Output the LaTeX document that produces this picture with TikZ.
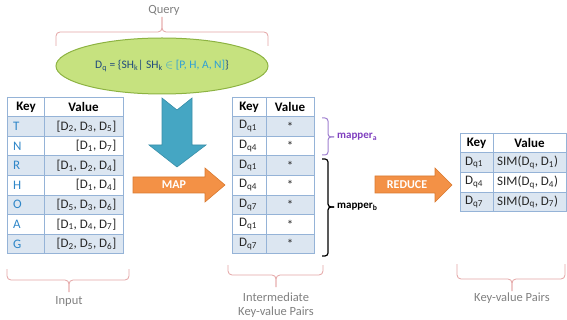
\documentclass[tikz,border=0pt]{standalone}
\usepackage{fontspec}
\setmainfont{Carlito}
\usetikzlibrary{shapes.geometric}
\newcommand\sbs[1]{\textsubscript{#1}}
\definecolor{tblline}{HTML}{95B3D7}
\definecolor{tblfill}{HTML}{DCE6F1}
\definecolor{keyblue}{HTML}{2E86C8}
\definecolor{txtdark}{HTML}{262626}
\definecolor{bracepink}{HTML}{E3A3A3}
\definecolor{labelgray}{HTML}{808080}
\definecolor{ellfill}{HTML}{C6E27F}
\definecolor{elldraw}{HTML}{8DB342}
\definecolor{arrteal}{HTML}{45A6C3}
\definecolor{arrtealdk}{HTML}{3A8FA9}
\definecolor{arrorange}{HTML}{F39146}
\definecolor{arrorangedk}{HTML}{D97A30}
\definecolor{mpurple}{HTML}{7F3FBF}
\definecolor{bpurple}{HTML}{9F7FCF}
\definecolor{navy}{HTML}{1F497D}
\definecolor{lightblue}{HTML}{2EA0D6}
\tikzset{
  cell/.style={inner sep=0pt, font=\fontsize{13}{15}\selectfont, text=txtdark},
  keycell/.style={cell, text=keyblue, anchor=west},
  hdr/.style={inner sep=0pt, font=\fontsize{13}{15}\selectfont\bfseries, text=black},
  lbl/.style={inner sep=0pt, font=\fontsize{12.5}{15}\selectfont, text=labelgray},
  brc/.style={draw=bracepink, line width=0.8pt, rounded corners=4pt},
  grid/.style={draw=tblline, line width=0.8pt},
  shade/.style={fill=tblfill},
  tealarrow/.style={fill=arrteal, draw=arrtealdk, line width=0.6pt},
  orangearrow/.style={fill=arrorange, draw=arrorangedk, line width=0.6pt},
  arrtext/.style={inner sep=0pt, text=white, font=\fontsize{12}{14}\selectfont\bfseries},
  mlabel/.style={inner sep=0pt, anchor=west, font=\fontsize{11}{13}\selectfont\bfseries}
}
\begin{document}
\begin{tikzpicture}[x=1pt,y=-1pt]
\useasboundingbox (0,0) rectangle (567,320);

% ---------- Query ----------
\node[lbl] (qlabel) at (164,10) {Query};
\draw[brc] (56,46) -- (56,32) -- (162,32) -- (162,17);
\draw[brc] (268,46) -- (268,32) -- (162,32) -- (162,17);
\node[ellipse, fill=ellfill, draw=elldraw, line width=1pt, minimum width=212pt, minimum height=56pt,
      font=\fontsize{11.5}{13}\selectfont, text=navy] (query) at (162,66)
  {D\sbs{q} = \{SH\sbs{k}|~SH\sbs{k} {\color{lightblue}$\in$ [P, H, A, N]}\}};

% ---------- teal arrow ----------
\draw[tealarrow] (162,98) -- (177,110) -- (192,98) -- (192,145) -- (206,145) -- (177,167)
  -- (149,145) -- (162,145) -- cycle;

% ---------- MAP arrow ----------
\draw[orangearrow] (133,177) -- (205,177) -- (205,168) -- (225,185) -- (205,202) -- (205,193)
  -- (133,193) -- cycle;
\node[arrtext] (map) at (174,185) {MAP};

% ---------- REDUCE arrow ----------
\draw[orangearrow] (375,176) -- (435,176) -- (435,168) -- (452,185) -- (435,202) -- (435,193)
  -- (375,193) -- cycle;
\node[arrtext] (reduce) at (407,185) {REDUCE};

% ---------- Input table ----------
\foreach \i in {1,3,5,7} \fill[shade] (7,{97+19.6*\i}) rectangle (123,{97+19.6*(\i+1)});
\foreach \i in {0,...,8} \draw[grid] (7,{97+19.6*\i}) -- (123,{97+19.6*\i});
\foreach \x in {7,44,123} \draw[grid] (\x,97) -- (\x,253.8);
\node[hdr] (inK) at (26,107) {Key};
\node[hdr] (inV) at (83.5,107) {Value};
\foreach \k/\v [count=\i] in {T/{[D\sbs{2}, D\sbs{3}, D\sbs{5}]}, N/{[D\sbs{1}, D\sbs{7}]},
   R/{[D\sbs{1}, D\sbs{2}, D\sbs{4}]}, H/{[D\sbs{1}, D\sbs{4}]}, O/{[D\sbs{5}, D\sbs{3}, D\sbs{6}]},
   A/{[D\sbs{1}, D\sbs{4}, D\sbs{7}]}, G/{[D\sbs{2}, D\sbs{5}, D\sbs{6}]}} {
  \node[keycell] (ink\i) at (13,{97+19.6*\i+9.8}) {\k};
  \node[cell, anchor=east] (inv\i) at (116.5,{97+19.6*\i+9.8}) {\v};
}
\draw[brc] (7,269) -- (7,280) -- (69,280) -- (69,292);
\draw[brc] (129,269) -- (129,280) -- (69,280) -- (69,292);
\node[lbl] (inlabel) at (69,301) {Input};

% ---------- Intermediate table ----------
\foreach \i in {1,3,5,7} \fill[shade] (232,{97+19.6*\i}) rectangle (314,{97+19.6*(\i+1)});
\foreach \i in {0,...,8} \draw[grid] (232,{97+19.6*\i}) -- (314,{97+19.6*\i});
\foreach \x in {232,266,314} \draw[grid] (\x,97) -- (\x,253.8);
\node[hdr] (imK) at (249,107) {Key};
\node[hdr] (imV) at (290,107) {Value};
\foreach \q [count=\i] in {1,4,1,4,7,1,7} {
  \node[cell, anchor=west] (imk\i) at (239,{97+19.6*\i+9.8}) {D\sbs{q\q}};
  \node[cell] (imv\i) at (290,{97+19.6*\i+9.8}) {*};
}
\draw[brc] (228,265) -- (228,275) -- (276,275) -- (276,287);
\draw[brc] (323,265) -- (323,275) -- (276,275) -- (276,287);
\node[lbl] (imlabel1) at (276,297) {Intermediate};
\node[lbl] (imlabel2) at (276,312) {Key-value Pairs};

% mapper braces
\draw[draw=bpurple, line width=1pt, rounded corners=3pt] (322,118) -- (328,118) -- (328,137) -- (334,137);
\draw[draw=bpurple, line width=1pt, rounded corners=3pt] (322,155) -- (328,155) -- (328,137) -- (334,137);
\node[mlabel, text=mpurple] (mapa) at (337,137) {mapper\sbs{a}};
\draw[draw=black, line width=1.2pt, rounded corners=3pt] (322,159) -- (328,159) -- (328,207) -- (334,207);
\draw[draw=black, line width=1.2pt, rounded corners=3pt] (322,256) -- (328,256) -- (328,207) -- (334,207);
\node[mlabel, text=black] (mapb) at (337,207) {mapper\sbs{b}};

% ---------- Output table ----------
\foreach \i in {1,3} \fill[shade] (460,{133+19.7*\i}) rectangle (566,{133+19.7*(\i+1)});
\foreach \i in {0,...,4} \draw[grid] (460,{133+19.7*\i}) -- (566,{133+19.7*\i});
\foreach \x in {460,493,566} \draw[grid] (\x,133) -- (\x,211.8);
\node[hdr] (outK) at (476.5,143) {Key};
\node[hdr] (outV) at (529.5,143) {Value};
\foreach \q [count=\i] in {1,4,7} {
  \node[cell, anchor=west] (outk\i) at (465,{133+19.7*\i+9.85}) {D\sbs{q\q}};
  \node[cell, anchor=west] (outv\i) at (497,{133+19.7*\i+9.85}) {SIM(D\sbs{q}, D\sbs{\q})};
}
\draw[brc] (457,264) -- (457,279) -- (512,279) -- (512,291);
\draw[brc] (565,264) -- (565,279) -- (512,279) -- (512,291);
\node[lbl] (outlabel) at (512,298) {Key-value Pairs};
\end{tikzpicture}
\end{document}
